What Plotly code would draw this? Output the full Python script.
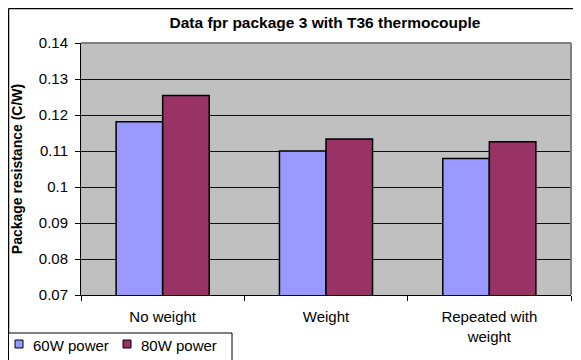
import plotly.graph_objects as go

categories = ["No weight", "Weight", "Repeated with<br>weight"]
power_60w = [0.1181, 0.1100, 0.1079]
power_80w = [0.1254, 0.1133, 0.1126]
series_names = ["60W power", "80W power"]
series_colors = ["#9999FF", "#993366"]
y_ticks = [0.07, 0.08, 0.09, 0.1, 0.11, 0.12, 0.13, 0.14]
y_tick_labels = ["0.07", "0.08", "0.09", "0.1", "0.11", "0.12", "0.13", "0.14"]

FONT = "Liberation Sans, Arial, sans-serif"

fig = go.Figure()
for name, vals, col in zip(series_names, [power_60w, power_80w], series_colors):
    fig.add_trace(go.Bar(x=categories, y=vals, name=name, showlegend=False,
                         marker=dict(color=col, line=dict(color="black", width=1.5))))

# page body has an 8px margin: figure is placed at (8, 8) on screen
OFF = 8
W, H = 581 - OFF, 360 - OFF
L, R, T, B = 81 - OFF, 10, 43 - OFF, 65
pw, ph = W - L - R, H - T - B

def px(sx):
    return (sx - OFF - L) / pw

def py(sy):
    return (H - B - (sy - OFF)) / ph

fig.update_layout(
    width=W, height=H,
    margin=dict(l=L, r=R, t=T, b=B, pad=0, autoexpand=False),
    paper_bgcolor="white",
    plot_bgcolor="#C0C0C0",
    barmode="group",
    bargap=0.43,
    bargroupgap=0,
    font=dict(family=FONT, size=15, color="black"),
    title=dict(text="<b>Data fpr package 3 with T36 thermocouple</b>",
               x=px(325), xref="paper", xanchor="center",
               y=1 - (23 - OFF) / H, yanchor="middle",
               font=dict(size=15.5, family=FONT)),
    showlegend=False,
    xaxis=dict(showgrid=False, showline=True, linecolor="black", linewidth=1,
               ticks="outside", tickson="boundaries", ticklen=5, tickcolor="black",
               tickfont=dict(size=15, family=FONT), ticklabelstandoff=8,
               automargin=False),
    yaxis=dict(range=[0.07, 0.14], tickvals=y_ticks, ticktext=y_tick_labels,
               showgrid=True, gridcolor="#101010", gridwidth=1,
               showline=True, linecolor="black", linewidth=1,
               ticks="outside", ticklen=5, tickcolor="black",
               tickfont=dict(size=15, family=FONT), ticklabelstandoff=4,
               title=dict(text="<b>Package resistance (C/W)</b>", standoff=12,
                          font=dict(size=14, family=FONT)),
               zeroline=False, automargin=False),
)

# plot area border (top/right gray) and outer chart border
fig.add_shape(type="line", xref="paper", yref="paper", x0=0, x1=1, y0=1, y1=1,
              line=dict(color="#808080", width=2))
fig.add_shape(type="line", xref="paper", yref="paper", x0=1, x1=1, y0=0, y1=1,
              line=dict(color="#808080", width=2))
fig.add_shape(type="line", xref="paper", yref="paper", x0=px(8.5), x1=px(8.5),
              y0=py(8.5), y1=py(365), line=dict(color="black", width=1.5))
fig.add_shape(type="line", xref="paper", yref="paper", x0=px(8.5), x1=px(590),
              y0=py(8.5), y1=py(8.5), line=dict(color="black", width=1.5))

# legend box (Excel style)
fig.add_shape(type="rect", xref="paper", yref="paper", x0=px(8.5), x1=px(232),
              y0=py(370), y1=py(333), line=dict(color="black", width=1),
              fillcolor="white", layer="above")
legend_x = [15, 123]
for i, (name, col) in enumerate(zip(series_names, series_colors)):
    sx = legend_x[i]
    fig.add_shape(type="rect", xref="paper", yref="paper",
                  x0=px(sx), x1=px(sx + 8), y0=py(348), y1=py(340),
                  line=dict(color="black", width=1), fillcolor=col, layer="above")
    fig.add_annotation(xref="paper", yref="paper", x=px(sx + 16), y=py(345),
                       xanchor="left", yanchor="middle", text=name, showarrow=False,
                       font=dict(size=15, family=FONT, color="black"))

fig.write_html("out.html")
